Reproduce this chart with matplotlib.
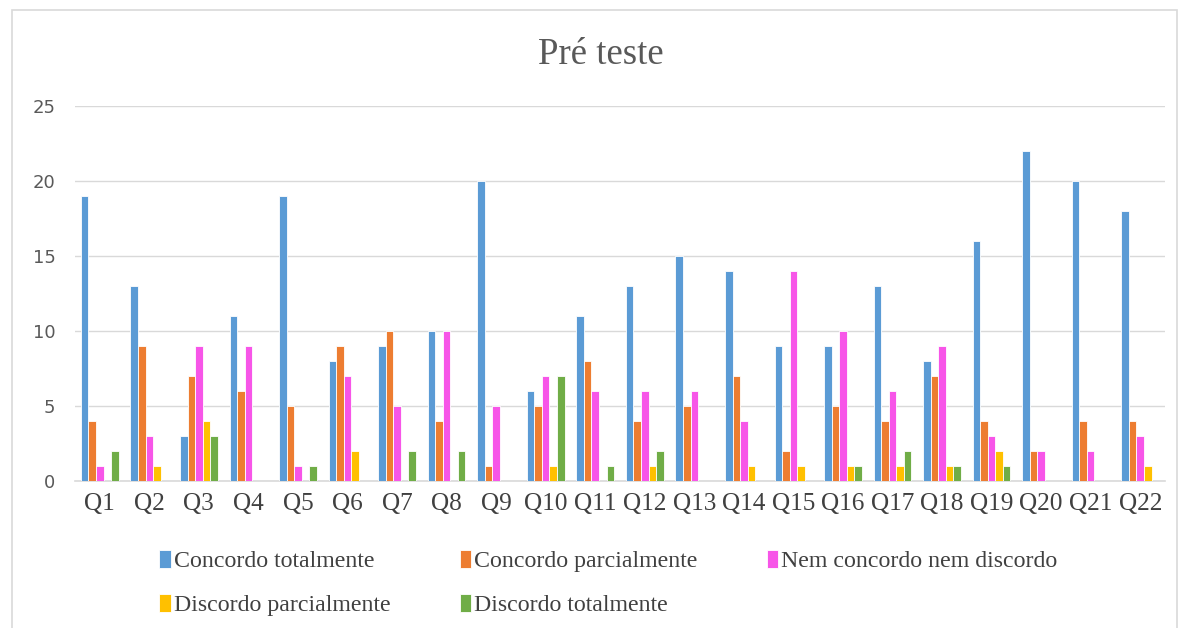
import matplotlib
matplotlib.use("Agg")
import matplotlib.pyplot as plt
import numpy as np
from matplotlib.patches import Rectangle

questions = [f"Q{i}" for i in range(1, 23)]

concordo_total = [19, 13, 3, 11, 19, 8, 9, 10, 20, 6, 11, 13, 15, 14, 9, 9, 13, 8, 16, 22, 20, 18]
concordo_parcial = [4, 9, 7, 6, 5, 9, 10, 4, 1, 5, 8, 4, 5, 7, 2, 5, 4, 7, 4, 2, 4, 4]
nem_nem = [1, 3, 9, 9, 1, 7, 5, 10, 5, 7, 6, 6, 6, 4, 14, 10, 6, 9, 3, 2, 2, 3]
discordo_parcial = [0, 1, 4, 0, 0, 2, 0, 0, 0, 1, 0, 1, 0, 1, 1, 1, 1, 1, 2, 0, 0, 1]
discordo_total = [2, 0, 3, 0, 1, 0, 2, 2, 0, 7, 1, 2, 0, 0, 0, 1, 2, 1, 1, 0, 0, 0]

series = [
    ("Concordo totalmente", concordo_total, "#5B9BD5"),
    ("Concordo parcialmente", concordo_parcial, "#ED7D31"),
    ("Nem concordo nem discordo", nem_nem, "#F755E8"),
    ("Discordo parcialmente", discordo_parcial, "#FFC000"),
    ("Discordo totalmente", discordo_total, "#70AD47"),
]

serif = "Liberation Serif"

fig = plt.figure(figsize=(11.81, 6.28), dpi=100)
ax = fig.add_axes([75 / 1181, (628 - 481) / 628, 1090 / 1181, 375 / 628])

x = np.arange(len(questions))
bw = 0.152
handles = []
for i, (name, vals, color) in enumerate(series):
    b = ax.bar(x + (i - 2) * bw, vals, width=bw, color=color,
               edgecolor="white", linewidth=0.6, label=name, zorder=3)
    handles.append(b)

ax.set_xlim(-0.5, len(questions) - 0.5)
ax.set_ylim(0, 25)
ax.set_yticks(range(0, 26, 5))
ax.grid(axis="y", color="#D9D9D9", linewidth=1, zorder=0)
for s in ["top", "right", "left"]:
    ax.spines[s].set_visible(False)
ax.spines["bottom"].set_color("#D9D9D9")
ax.spines["bottom"].set_linewidth(1.2)
ax.tick_params(length=0)
ax.tick_params(axis="y", labelsize=13, labelcolor="#595959", pad=14)
ax.set_xticks(x)
ax.set_xticklabels(questions, fontfamily=serif, fontsize=18.2, color="#404040")
ax.tick_params(axis="x", pad=9)

fig.text(601 / 1181, 1 - 55 / 628, "Pré teste", ha="center", va="center",
         fontfamily=serif, fontsize=26.5, color="#595959")

# row-major order for the three-column legend
order = [0, 3, 1, 4, 2]
leg = fig.legend([handles[k] for k in order], [series[k][0] for k in order],
                 ncol=3, loc="center", bbox_to_anchor=(0.515, 1 - 583 / 628),
                 frameon=False, prop={"family": serif, "size": 17.2},
                 handlelength=0.5, handleheight=0.8, handletextpad=0.1,
                 columnspacing=2.9, labelspacing=0.9)
for t in leg.get_texts():
    t.set_color("#404040")

fig.patches.append(Rectangle((12 / 1181, -0.01), 1165 / 1181, 1 - 10 / 628 + 0.01,
                             transform=fig.transFigure, fill=False,
                             edgecolor="#D9D9D9", linewidth=1.2))

fig.savefig("out.png", dpi=100)
